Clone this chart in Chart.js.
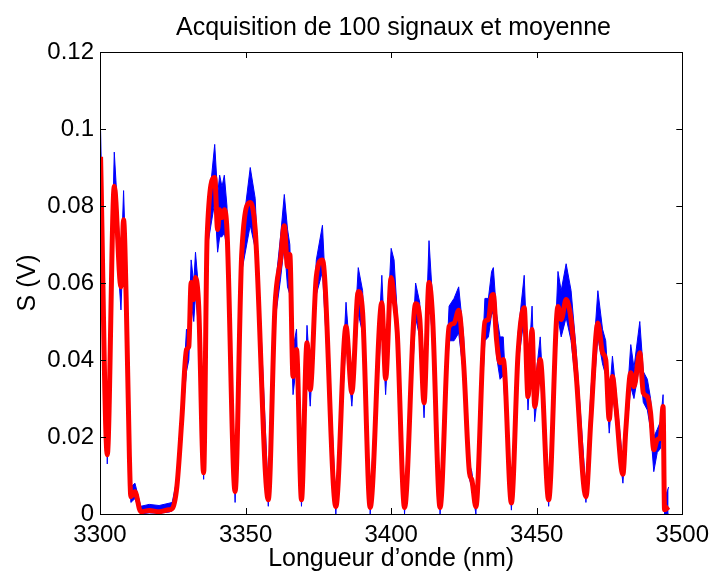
<!DOCTYPE html>
<html>
<head>
<meta charset="utf-8">
<script src="https://cdn.jsdelivr.net/npm/chart.js@4/dist/chart.umd.min.js"></script>
<style>
    html, body { margin: 0; padding: 0; background: #fff; }
    #bloc { position: relative; width: 716px; height: 574px; }
    #graf { display: block; }
    #titre {
        position: absolute;
        top: 11px;
        left: 100px;
        width: 587px;
        text-align: center;
        font-family: 'Liberation Sans', Arial, Helvetica, sans-serif;
        font-size: 25px;
        line-height: 30px;
        color: #000;
        white-space: nowrap;
    }
</style>
</head>
<body>
<div id="bloc">
    <canvas id="graf" width="716" height="574"></canvas>
    <div id="titre">Acquisition de 100 signaux et moyenne</div>
</div>
<script>
// ======================== DONNÉES ========================
// longueur d'onde (nm) des points
const longueurs = [
    3300.2, 3302.5, 3304.9, 3307.2, 3308.1, 3309.0, 3310.1, 3310.6, 3312.0, 3314.0,
    3316.9, 3320.3, 3323.7, 3324.8,
    3326.4, 3328.1, 3329.7, 3330.5, 3331.3, 3332.2, 3332.8, 3333.9, 3335.6, 3336.8,
    3339.4, 3340.4, 3341.1, 3341.9, 3342.7, 3343.6, 3346.4, 3348.7, 3351.6, 3353.3,
    3357.8, 3360.1, 3362.0, 3363.3, 3364.4, 3365.2, 3366.3, 3367.5, 3369.2, 3371.1,
    3372.2, 3374.3, 3376.4, 3381.0, 3384.5, 3386.5, 3388.7, 3390.2, 3392.8, 3396.8,
    3398.1, 3400.0, 3401.0, 3402.1, 3404.6, 3408.4, 3409.8, 3411.3, 3413.0, 3414.2,
    3416.8, 3419.9, 3421.6, 3423.2, 3424.9, 3426.9, 3427.7, 3429.1, 3432.2, 3433.4,
    3434.5, 3435.1, 3436.2, 3437.4, 3438.5, 3441.3, 3443.6, 3445.7, 3447.0, 3448.4,
    3449.3, 3451.2, 3454.1, 3457.3, 3458.4, 3460.1, 3461.8, 3463.5, 3466.9, 3468.6,
    3471.0, 3472.6, 3473.7, 3474.9, 3476.0, 3477.2, 3479.6, 3480.6, 3482.3, 3483.4,
    3485.4, 3486.6, 3488.0, 3489.1, 3490.2, 3491.4, 3492.5, 3493.4, 3493.9, 3495.3,
];

// moyenne des 100 signaux (V)
const moyenne = [
    0.0928, 0.0154, 0.0851, 0.0590, 0.0764, 0.0557, 0.0149, 0.0045, 0.0058, 0.0006,
    0.0009, 0.0006, 0.0011, 0.0014,
    0.0071, 0.0245, 0.0427, 0.0435, 0.0601, 0.0557, 0.0614, 0.0539, 0.0107, 0.0720,
    0.0874, 0.0739, 0.0790, 0.0770, 0.0790, 0.0739, 0.0058, 0.0679, 0.0809, 0.0739,
    0.0037, 0.0539, 0.0660, 0.0749, 0.0643, 0.0674, 0.0357, 0.0427, 0.0037, 0.0445,
    0.0323, 0.0617, 0.0660, 0.0019, 0.0487, 0.0315, 0.0578, 0.0523, 0.0017, 0.0549,
    0.0351, 0.0614, 0.0557, 0.0471, 0.0017, 0.0546, 0.0510, 0.0289, 0.0601, 0.0515,
    0.0017, 0.0487, 0.0495, 0.0529, 0.0390, 0.0107, 0.0089, 0.0019, 0.0500, 0.0505,
    0.0565, 0.0570, 0.0453, 0.0393, 0.0401, 0.0029, 0.0419, 0.0536, 0.0305, 0.0479,
    0.0279, 0.0401, 0.0037, 0.0539, 0.0505, 0.0557, 0.0505, 0.0367, 0.0045, 0.0245,
    0.0496, 0.0419, 0.0401, 0.0245, 0.0357, 0.0279, 0.0103, 0.0219, 0.0367, 0.0331,
    0.0419, 0.0315, 0.0305, 0.0263, 0.0167, 0.0193, 0.0201, 0.0279, 0.0011, 0.0019,
];

// enveloppe haute des 100 acquisitions (V)
const signauxMax = [
    0.0995, 0.018, 0.094, 0.064, 0.084, 0.062, 0.017, 0.007, 0.008, 0.002,
    0.0025, 0.0022, 0.0028, 0.003,
    0.009, 0.026, 0.048, 0.047, 0.066, 0.060, 0.068, 0.058, 0.012, 0.076,
    0.096, 0.083, 0.088, 0.085, 0.088, 0.080, 0.007, 0.072, 0.090, 0.082,
    0.005, 0.058, 0.072, 0.083, 0.074, 0.070, 0.043, 0.048, 0.005, 0.049,
    0.036, 0.066, 0.075, 0.003, 0.055, 0.035, 0.064, 0.058, 0.003, 0.062,
    0.040, 0.069, 0.066, 0.052, 0.003, 0.060, 0.055, 0.033, 0.071, 0.056,
    0.003, 0.054, 0.056, 0.059, 0.046, 0.013, 0.011, 0.003, 0.056, 0.056,
    0.063, 0.064, 0.052, 0.046, 0.046, 0.004, 0.047, 0.062, 0.036, 0.054,
    0.033, 0.046, 0.005, 0.063, 0.058, 0.065, 0.058, 0.043, 0.006, 0.032,
    0.058, 0.048, 0.045, 0.030, 0.041, 0.032, 0.013, 0.025, 0.044, 0.038,
    0.050, 0.037, 0.035, 0.030, 0.020, 0.022, 0.024, 0.031, 0.004, 0.007,
];

// enveloppe basse des 100 acquisitions (V)
const signauxMin = [
    0.091, 0.013, 0.080, 0.053, 0.072, 0.052, 0.013, 0.003, 0.004, 0.000,
    0.0003, 0.0002, 0.0005, 0.0008,
    0.006, 0.023, 0.037, 0.040, 0.055, 0.050, 0.057, 0.048, 0.009, 0.069,
    0.081, 0.068, 0.072, 0.072, 0.073, 0.069, 0.003, 0.063, 0.075, 0.069,
    0.002, 0.050, 0.061, 0.070, 0.059, 0.057, 0.031, 0.039, 0.002, 0.041,
    0.028, 0.057, 0.063, 0.000, 0.045, 0.028, 0.052, 0.047, 0.000, 0.051,
    0.031, 0.057, 0.055, 0.043, 0.000, 0.051, 0.046, 0.025, 0.056, 0.046,
    0.000, 0.045, 0.045, 0.047, 0.036, 0.009, 0.007, 0.000, 0.045, 0.046,
    0.052, 0.052, 0.041, 0.035, 0.036, 0.001, 0.039, 0.051, 0.027, 0.044,
    0.024, 0.037, 0.002, 0.051, 0.046, 0.051, 0.045, 0.033, 0.003, 0.022,
    0.046, 0.039, 0.036, 0.021, 0.032, 0.024, 0.008, 0.019, 0.033, 0.030,
    0.039, 0.029, 0.027, 0.022, 0.011, 0.016, 0.017, 0.025, 0.000, 0.000,
];

const ticksX = [3300, 3350, 3400, 3450, 3500];
const ticksY = [0, 0.02, 0.04, 0.06, 0.08, 0.1, 0.12];

// ======================== GRAPHIQUE ========================
const police = "'Liberation Sans', Arial, Helvetica, sans-serif";

const pts = (ys) => longueurs.map((x, i) => ({ x: x, y: ys[i] }));

// cadre noir + graduations vers l'intérieur (style MATLAB)
const cadreMatlab = {
    id: 'cadreMatlab',
    afterDatasetsDraw(chart) {
        const { ctx, chartArea: a, scales } = chart;
        const L = 6;
        ctx.save();
        ctx.strokeStyle = '#000';
        ctx.lineWidth = 1;
        ctx.beginPath();
        ticksX.forEach((v) => {
            const px = Math.round(scales.x.getPixelForValue(v)) + 0.5;
            ctx.moveTo(px, a.bottom);
            ctx.lineTo(px, a.bottom - L);
            ctx.moveTo(px, a.top);
            ctx.lineTo(px, a.top + L);
        });
        ticksY.forEach((v) => {
            const py = Math.round(scales.y.getPixelForValue(v)) + 0.5;
            ctx.moveTo(a.left, py);
            ctx.lineTo(a.left + L, py);
            ctx.moveTo(a.right, py);
            ctx.lineTo(a.right - L, py);
        });
        ctx.stroke();
        ctx.strokeRect(Math.round(a.left) + 0.5, Math.round(a.top) + 0.5,
            Math.round(a.right - a.left), Math.round(a.bottom - a.top));
        ctx.restore();
    },
};

new Chart(document.getElementById('graf'), {
    type: 'line',
    data: {
        datasets: [
            {
                label: 'Moyenne',
                data: pts(moyenne),
                borderColor: '#ff0000',
                borderWidth: 5,
                pointRadius: 0,
                cubicInterpolationMode: 'monotone',
                fill: false,
            },
            {
                label: 'Signaux max',
                data: pts(signauxMax),
                borderColor: '#0000ff',
                backgroundColor: '#0000ff',
                borderWidth: 1,
                pointRadius: 0,
                tension: 0,
                fill: '+1',
            },
            {
                label: 'Signaux min',
                data: pts(signauxMin),
                borderColor: '#0000ff',
                borderWidth: 1,
                pointRadius: 0,
                tension: 0,
                fill: false,
            },
        ],
    },
    options: {
        responsive: false,
        animation: false,
        devicePixelRatio: 1,
        layout: { padding: { left: 0, right: 29, top: 52, bottom: 0 } },
        plugins: {
            legend: { display: false },
            tooltip: { enabled: false },
            title: { display: false },
        },
        scales: {
            x: {
                type: 'linear',
                min: 3300,
                max: 3500,
                afterBuildTicks: (s) => { s.ticks = ticksX.map((v) => ({ value: v })); },
                afterFit: (s) => { s.height = 60; },
                grid: { display: false, drawTicks: false },
                border: { display: false },
                ticks: {
                    color: '#000',
                    padding: 7,
                    maxRotation: 0,
                    font: { family: police, size: 24 },
                    callback: (v) => String(v),
                },
                title: {
                    display: true,
                    text: 'Longueur d\u2019onde (nm)',
                    color: '#000',
                    font: { family: police, size: 25 },
                    padding: { top: 0, bottom: 0 },
                },
            },
            y: {
                type: 'linear',
                min: 0,
                max: 0.12,
                afterBuildTicks: (s) => { s.ticks = ticksY.map((v) => ({ value: v })); },
                afterFit: (s) => { s.width = 100; },
                grid: { display: false, drawTicks: false },
                border: { display: false },
                ticks: {
                    color: '#000',
                    padding: 6,
                    font: { family: police, size: 24 },
                    callback: (v) => String(+v.toFixed(2)),
                },
                title: {
                    display: true,
                    text: 'S (V)',
                    color: '#000',
                    font: { family: police, size: 25 },
                    padding: { top: 13, bottom: 0 },
                },
            },
        },
    },
    plugins: [cadreMatlab],
});
</script>
</body>
</html>
